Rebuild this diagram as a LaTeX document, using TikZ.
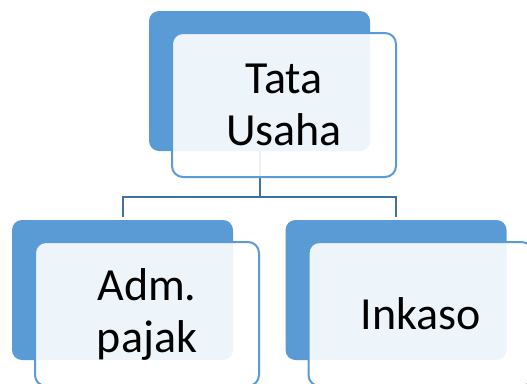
\documentclass[tikz,border=0pt]{standalone}
\usepackage{fontspec}
\setmainfont{Carlito}
\usepackage{tikz}
\usetikzlibrary{calc,positioning}

\begin{document}
\begin{tikzpicture}[x=1pt,y=-1pt]
  % Configurable parameters
  \def\bw{221}              % Width of the dark back box
  \def\bh{140}              % Height of the dark back box
  \def\fw{224}              % Width of the light front box
  \def\fh{144}              % Height of the light front box
  \def\dx{24.5}             % Shift of front box to the right
  \def\dy{24}               % Shift of front box downwards
  \newcommand{\boxlabel}{\fontsize{46}{52}\selectfont}
  \definecolor{accent}{HTML}{5B9BD5}
  \definecolor{linkblue}{HTML}{41719C}
  \tikzset{
    backbox/.style={fill=accent,rounded corners=10pt,inner sep=0pt,
      minimum width=\bw pt,minimum height=\bh pt},
    frontbox/.style={draw=accent,line width=2pt,fill=white,fill opacity=0.9,
      text opacity=1,rounded corners=11pt,inner sep=0pt,align=center,
      minimum width=\fw pt,minimum height=\fh pt,font=\boxlabel},
    conn/.style={draw=linkblue,line width=2pt}
  }
  %
  \useasboundingbox (0,0) rectangle (527,383);
  \clip (0,0) rectangle (527,383);
  %
  % Back boxes
  \node[backbox] (tu) at (259.5,81) {};
  \node[backbox] (adm) at (122.5,290) {};
  \node[backbox] (ink) at (396,290) {};
  %
  % Connectors
  \coordinate (bus) at (259.5,197);
  \draw[conn,shorten >=3pt] (tu.south) -- (bus) -| (adm.north);
  \draw[conn,shorten >=3pt] (bus) -| (ink.north);
  %
  % Front boxes with labels
  \node[frontbox] (tuF) at ($(tu)+(\dx,\dy)$) {Tata\\Usaha};
  \node[frontbox] (admF) at ($(adm)+(\dx,\dy)$) {Adm.\\pajak};
  \node[frontbox] (inkF) at ($(ink)+(\dx,\dy)$) {Inkaso};
  %
\end{tikzpicture}
\end{document}
